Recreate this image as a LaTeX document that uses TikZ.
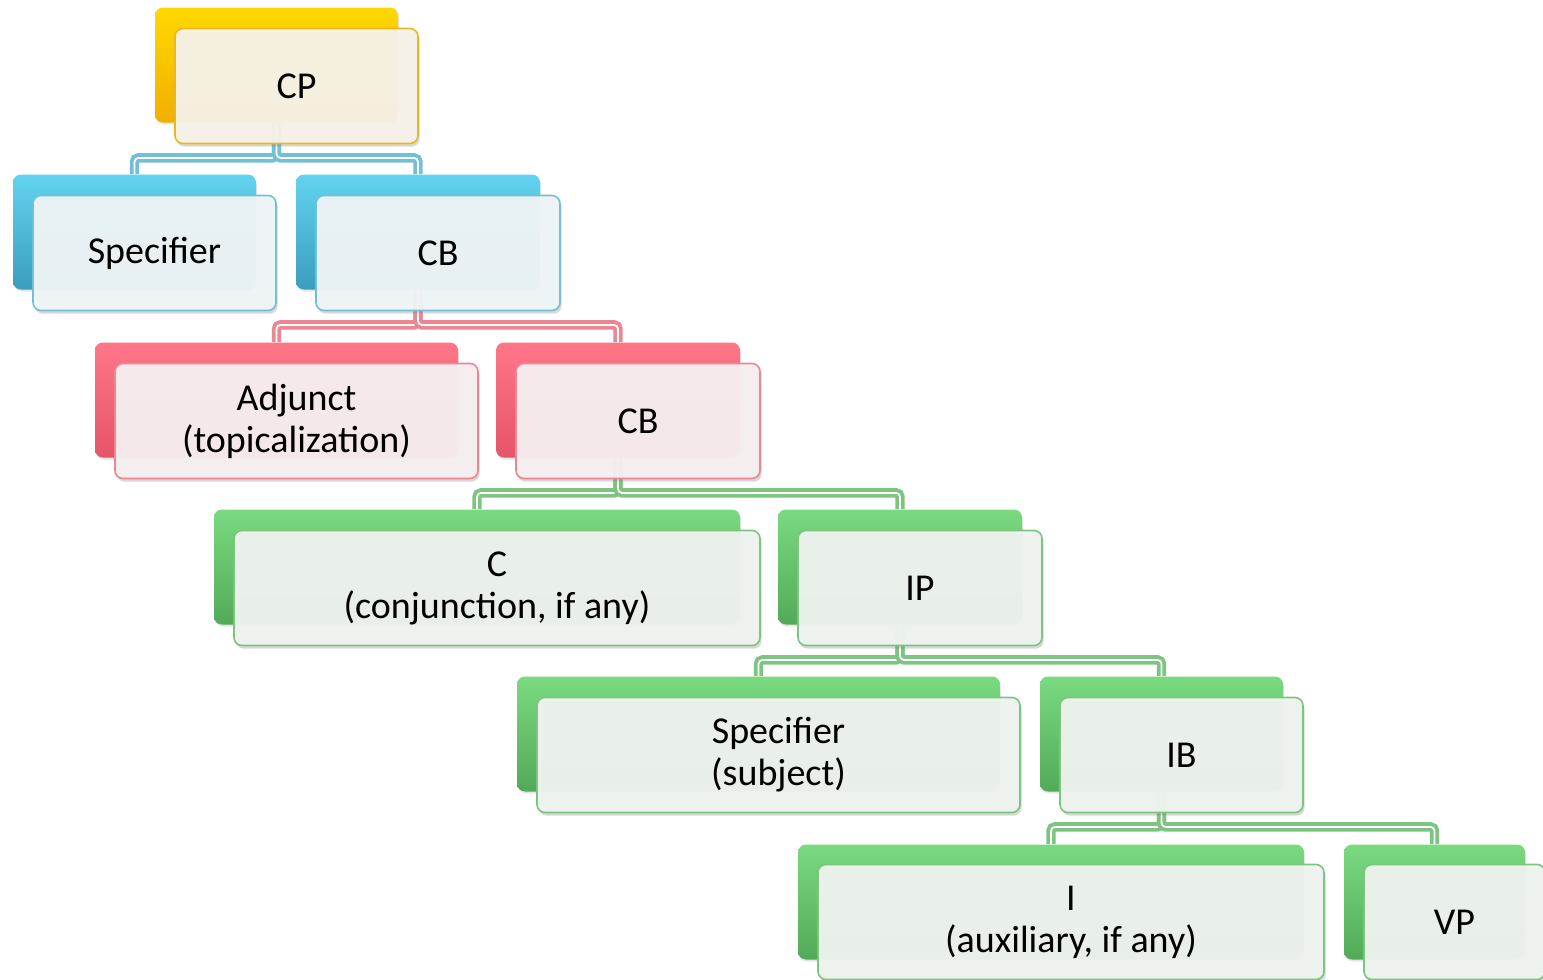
\documentclass[tikz,border=0pt]{standalone}
\usepackage{fontspec}
\setmainfont{Carlito}
\usetikzlibrary{shadows, calc}
\definecolor{goldtop}{HTML}{FFD800}
\definecolor{goldbot}{HTML}{F2AE00}
\definecolor{goldfill}{HTML}{F7F3E9}
\definecolor{goldline}{HTML}{E9B820}
\definecolor{bluetop}{HTML}{62D3F0}
\definecolor{bluebot}{HTML}{3B9DBE}
\definecolor{bluefill}{HTML}{F0F5F7}
\definecolor{blueline}{HTML}{72C0D6}
\definecolor{redtop}{HTML}{FF7689}
\definecolor{redbot}{HTML}{E65469}
\definecolor{redfill}{HTML}{F7F0F1}
\definecolor{redline}{HTML}{EE8592}
\definecolor{greentop}{HTML}{7ADA80}
\definecolor{greenbot}{HTML}{52AA58}
\definecolor{greenfill}{HTML}{F0F4F0}
\definecolor{greenline}{HTML}{7DC481}
\tikzset{
  backbox/.style 2 args={rounded corners=4pt, minimum height=57.5pt, minimum width=#1,
    inner sep=0pt, top color=#2top, bottom color=#2bot, draw=none,
    drop shadow={shadow xshift=0.5pt, shadow yshift=-1pt, opacity=0.2}},
  frontbox/.style 2 args={rounded corners=4pt, minimum height=57.5pt, minimum width=#1,
    inner sep=0pt, fill=#2fill, fill opacity=0.95, text opacity=1, draw=#2line, line width=0.8pt,
    align=center, font=\fontsize{19}{21}\selectfont,
    drop shadow={shadow xshift=0.8pt, shadow yshift=-1.6pt, opacity=0.3}},
  link/.style={draw=#1, line width=1.9pt, double=white, double distance=0.9pt, rounded corners=2pt}
}
\begin{document}
\begin{tikzpicture}[x=0.5pt,y=-0.5pt]
        \fill[white] (0,0) rectangle (1543,980);
        \useasboundingbox (0,0) rectangle (1543,980);
        % back boxes
        \draw (276.5,65) node[backbox={121.5pt}{gold}] (cp_b){};
        \draw (134.5,232) node[backbox={121.5pt}{blue}] (spec_b){};
        \draw (418,232) node[backbox={122pt}{blue}] (cb1_b){};
        \draw (276.5,400) node[backbox={181.5pt}{red}] (adj_b){};
        \draw (618,400) node[backbox={122pt}{red}] (cb2_b){};
        \draw (477,567) node[backbox={263pt}{green}] (c_b){};
        \draw (900,567) node[backbox={122pt}{green}] (ip_b){};
        \draw (758.5,734) node[backbox={241.5pt}{green}] (subj_b){};
        \draw (1161.5,734) node[backbox={121.5pt}{green}] (ib_b){};
        \draw (1051,902) node[backbox={253pt}{green}] (aux_b){};
        \draw (1434.5,902) node[backbox={90.5pt}{green}] (vp_b){};
        % connectors
        \draw[link=blueline] (cp_b.south) -- ++(0,35) -| (spec_b.north);
        \draw[link=blueline] (cp_b.south) -- ++(0,35) -| (cb1_b.north);
        \draw[link=redline] (cb1_b.south) -- ++(0,35) -| (adj_b.north);
        \draw[link=redline] (cb1_b.south) -- ++(0,35) -| (cb2_b.north);
        \draw[link=greenline] (cb2_b.south) -- ++(0,35) -| (c_b.north);
        \draw[link=greenline] (cb2_b.south) -- ++(0,35) -| (ip_b.north);
        \draw[link=greenline] (ip_b.south) -- ++(0,35) -| (subj_b.north);
        \draw[link=greenline] (ip_b.south) -- ++(0,35) -| (ib_b.north);
        \draw[link=greenline] (ib_b.south) -- ++(0,35) -| (aux_b.north);
        \draw[link=greenline] (ib_b.south) -- ++(0,35) -| (vp_b.north);
        % front boxes
        \draw (296.5,86) node[frontbox={121.5pt}{gold}] (cp){CP};
        \draw (154.5,253) node[frontbox={121.5pt}{blue}] (spec){Specifier};
        \draw (438,253) node[frontbox={122pt}{blue}] (cb1){CB};
        \draw (296.5,421) node[frontbox={181.5pt}{red}] (adj){Adjunct\\(topicalization)};
        \draw (638,421) node[frontbox={122pt}{red}] (cb2){CB};
        \draw (497,588) node[frontbox={263pt}{green}] (c){C\\(conjunction, if any)};
        \draw (920,588) node[frontbox={122pt}{green}] (ip){IP};
        \draw (778.5,755) node[frontbox={241.5pt}{green}] (subj){Specifier\\(subject)};
        \draw (1181.5,755) node[frontbox={121.5pt}{green}] (ib){IB};
        \draw (1071,922) node[frontbox={253pt}{green}] (aux){I\\(auxiliary, if any)};
        \draw (1454.5,922) node[frontbox={90.5pt}{green}] (vp){VP};
      \end{tikzpicture}
\end{document}
